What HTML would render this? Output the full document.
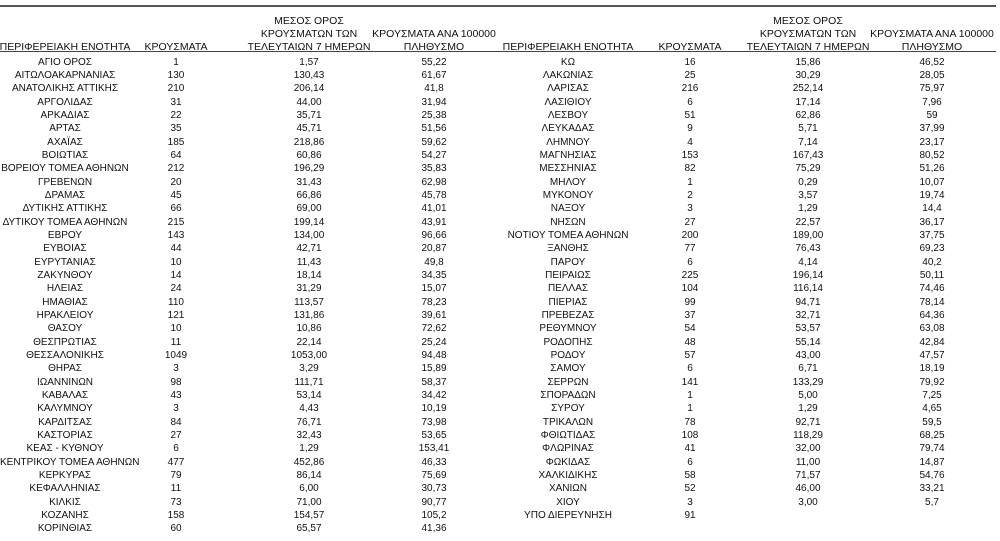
<!DOCTYPE html>
<html><head><meta charset="utf-8"><style>
body{margin:0;width:1000px;height:541px;background:#fff;position:relative;overflow:hidden;font-family:"Liberation Sans",sans-serif;font-size:10px;color:#111}
.t{position:absolute;left:0;top:5px;width:996px;height:2px;background:#555}
.hl{position:absolute;left:0;top:51px;width:996px;height:1px;background:#444}
.h{position:absolute;top:15px;height:39px;display:flex;align-items:flex-end;justify-content:center;text-align:center;line-height:13px;font-size:10.5px;white-space:nowrap}
.tb{position:absolute;top:55.8px}
.r{display:flex;height:13.34px;line-height:13.34px}
.r div{text-align:center;white-space:nowrap}
.L .c1{width:130px}.L .c2{width:92px}.L .c3{width:174px}.L .c4{width:76px}
.R .c1{width:136px}.R .c2{width:108px}.R .c3{width:128px}.R .c4{width:120px}
</style></head><body>
<div class="t"></div><div class="hl"></div>
<div class="h" style="left:0;width:130px">ΠΕΡΙΦΕΡΕΙΑΚΗ ΕΝΟΤΗΤΑ</div>
<div class="h" style="left:130px;width:92px">ΚΡΟΥΣΜΑΤΑ</div>
<div class="h" style="left:222px;width:174px">ΜΕΣΟΣ ΟΡΟΣ<br>ΚΡΟΥΣΜΑΤΩΝ ΤΩΝ<br>ΤΕΛΕΥΤΑΙΩΝ 7 ΗΜΕΡΩΝ</div>
<div class="h" style="left:374px;width:120px">ΚΡΟΥΣΜΑΤΑ ΑΝΑ 100000<br>ΠΛΗΘΥΣΜΟ</div>
<div class="h" style="left:500px;width:136px">ΠΕΡΙΦΕΡΕΙΑΚΗ ΕΝΟΤΗΤΑ</div>
<div class="h" style="left:636px;width:108px">ΚΡΟΥΣΜΑΤΑ</div>
<div class="h" style="left:744px;width:128px">ΜΕΣΟΣ ΟΡΟΣ<br>ΚΡΟΥΣΜΑΤΩΝ ΤΩΝ<br>ΤΕΛΕΥΤΑΙΩΝ 7 ΗΜΕΡΩΝ</div>
<div class="h" style="left:872px;width:120px">ΚΡΟΥΣΜΑΤΑ ΑΝΑ 100000<br>ΠΛΗΘΥΣΜΟ</div>
<div class="tb L" style="left:0">
<div class="r"><div class="c1">ΑΓΙΟ ΟΡΟΣ</div><div class="c2">1</div><div class="c3">1,57</div><div class="c4">55,22</div></div>
<div class="r"><div class="c1">ΑΙΤΩΛΟΑΚΑΡΝΑΝΙΑΣ</div><div class="c2">130</div><div class="c3">130,43</div><div class="c4">61,67</div></div>
<div class="r"><div class="c1">ΑΝΑΤΟΛΙΚΗΣ ΑΤΤΙΚΗΣ</div><div class="c2">210</div><div class="c3">206,14</div><div class="c4">41,8</div></div>
<div class="r"><div class="c1">ΑΡΓΟΛΙΔΑΣ</div><div class="c2">31</div><div class="c3">44,00</div><div class="c4">31,94</div></div>
<div class="r"><div class="c1">ΑΡΚΑΔΙΑΣ</div><div class="c2">22</div><div class="c3">35,71</div><div class="c4">25,38</div></div>
<div class="r"><div class="c1">ΑΡΤΑΣ</div><div class="c2">35</div><div class="c3">45,71</div><div class="c4">51,56</div></div>
<div class="r"><div class="c1">ΑΧΑΪΑΣ</div><div class="c2">185</div><div class="c3">218,86</div><div class="c4">59,62</div></div>
<div class="r"><div class="c1">ΒΟΙΩΤΙΑΣ</div><div class="c2">64</div><div class="c3">60,86</div><div class="c4">54,27</div></div>
<div class="r"><div class="c1">ΒΟΡΕΙΟΥ ΤΟΜΕΑ ΑΘΗΝΩΝ</div><div class="c2">212</div><div class="c3">196,29</div><div class="c4">35,83</div></div>
<div class="r"><div class="c1">ΓΡΕΒΕΝΩΝ</div><div class="c2">20</div><div class="c3">31,43</div><div class="c4">62,98</div></div>
<div class="r"><div class="c1">ΔΡΑΜΑΣ</div><div class="c2">45</div><div class="c3">66,86</div><div class="c4">45,78</div></div>
<div class="r"><div class="c1">ΔΥΤΙΚΗΣ ΑΤΤΙΚΗΣ</div><div class="c2">66</div><div class="c3">69,00</div><div class="c4">41,01</div></div>
<div class="r"><div class="c1">ΔΥΤΙΚΟΥ ΤΟΜΕΑ ΑΘΗΝΩΝ</div><div class="c2">215</div><div class="c3">199,14</div><div class="c4">43,91</div></div>
<div class="r"><div class="c1">ΕΒΡΟΥ</div><div class="c2">143</div><div class="c3">134,00</div><div class="c4">96,66</div></div>
<div class="r"><div class="c1">ΕΥΒΟΙΑΣ</div><div class="c2">44</div><div class="c3">42,71</div><div class="c4">20,87</div></div>
<div class="r"><div class="c1">ΕΥΡΥΤΑΝΙΑΣ</div><div class="c2">10</div><div class="c3">11,43</div><div class="c4">49,8</div></div>
<div class="r"><div class="c1">ΖΑΚΥΝΘΟΥ</div><div class="c2">14</div><div class="c3">18,14</div><div class="c4">34,35</div></div>
<div class="r"><div class="c1">ΗΛΕΙΑΣ</div><div class="c2">24</div><div class="c3">31,29</div><div class="c4">15,07</div></div>
<div class="r"><div class="c1">ΗΜΑΘΙΑΣ</div><div class="c2">110</div><div class="c3">113,57</div><div class="c4">78,23</div></div>
<div class="r"><div class="c1">ΗΡΑΚΛΕΙΟΥ</div><div class="c2">121</div><div class="c3">131,86</div><div class="c4">39,61</div></div>
<div class="r"><div class="c1">ΘΑΣΟΥ</div><div class="c2">10</div><div class="c3">10,86</div><div class="c4">72,62</div></div>
<div class="r"><div class="c1">ΘΕΣΠΡΩΤΙΑΣ</div><div class="c2">11</div><div class="c3">22,14</div><div class="c4">25,24</div></div>
<div class="r"><div class="c1">ΘΕΣΣΑΛΟΝΙΚΗΣ</div><div class="c2">1049</div><div class="c3">1053,00</div><div class="c4">94,48</div></div>
<div class="r"><div class="c1">ΘΗΡΑΣ</div><div class="c2">3</div><div class="c3">3,29</div><div class="c4">15,89</div></div>
<div class="r"><div class="c1">ΙΩΑΝΝΙΝΩΝ</div><div class="c2">98</div><div class="c3">111,71</div><div class="c4">58,37</div></div>
<div class="r"><div class="c1">ΚΑΒΑΛΑΣ</div><div class="c2">43</div><div class="c3">53,14</div><div class="c4">34,42</div></div>
<div class="r"><div class="c1">ΚΑΛΥΜΝΟΥ</div><div class="c2">3</div><div class="c3">4,43</div><div class="c4">10,19</div></div>
<div class="r"><div class="c1">ΚΑΡΔΙΤΣΑΣ</div><div class="c2">84</div><div class="c3">76,71</div><div class="c4">73,98</div></div>
<div class="r"><div class="c1">ΚΑΣΤΟΡΙΑΣ</div><div class="c2">27</div><div class="c3">32,43</div><div class="c4">53,65</div></div>
<div class="r"><div class="c1">ΚΕΑΣ - ΚΥΘΝΟΥ</div><div class="c2">6</div><div class="c3">1,29</div><div class="c4">153,41</div></div>
<div class="r"><div class="c1">ΚΕΝΤΡΙΚΟΥ ΤΟΜΕΑ ΑΘΗΝΩΝ</div><div class="c2">477</div><div class="c3">452,86</div><div class="c4">46,33</div></div>
<div class="r"><div class="c1">ΚΕΡΚΥΡΑΣ</div><div class="c2">79</div><div class="c3">86,14</div><div class="c4">75,69</div></div>
<div class="r"><div class="c1">ΚΕΦΑΛΛΗΝΙΑΣ</div><div class="c2">11</div><div class="c3">6,00</div><div class="c4">30,73</div></div>
<div class="r"><div class="c1">ΚΙΛΚΙΣ</div><div class="c2">73</div><div class="c3">71,00</div><div class="c4">90,77</div></div>
<div class="r"><div class="c1">ΚΟΖΑΝΗΣ</div><div class="c2">158</div><div class="c3">154,57</div><div class="c4">105,2</div></div>
<div class="r"><div class="c1">ΚΟΡΙΝΘΙΑΣ</div><div class="c2">60</div><div class="c3">65,57</div><div class="c4">41,36</div></div>
</div>
<div class="tb R" style="left:500px">
<div class="r"><div class="c1">ΚΩ</div><div class="c2">16</div><div class="c3">15,86</div><div class="c4">46,52</div></div>
<div class="r"><div class="c1">ΛΑΚΩΝΙΑΣ</div><div class="c2">25</div><div class="c3">30,29</div><div class="c4">28,05</div></div>
<div class="r"><div class="c1">ΛΑΡΙΣΑΣ</div><div class="c2">216</div><div class="c3">252,14</div><div class="c4">75,97</div></div>
<div class="r"><div class="c1">ΛΑΣΙΘΙΟΥ</div><div class="c2">6</div><div class="c3">17,14</div><div class="c4">7,96</div></div>
<div class="r"><div class="c1">ΛΕΣΒΟΥ</div><div class="c2">51</div><div class="c3">62,86</div><div class="c4">59</div></div>
<div class="r"><div class="c1">ΛΕΥΚΑΔΑΣ</div><div class="c2">9</div><div class="c3">5,71</div><div class="c4">37,99</div></div>
<div class="r"><div class="c1">ΛΗΜΝΟΥ</div><div class="c2">4</div><div class="c3">7,14</div><div class="c4">23,17</div></div>
<div class="r"><div class="c1">ΜΑΓΝΗΣΙΑΣ</div><div class="c2">153</div><div class="c3">167,43</div><div class="c4">80,52</div></div>
<div class="r"><div class="c1">ΜΕΣΣΗΝΙΑΣ</div><div class="c2">82</div><div class="c3">75,29</div><div class="c4">51,26</div></div>
<div class="r"><div class="c1">ΜΗΛΟΥ</div><div class="c2">1</div><div class="c3">0,29</div><div class="c4">10,07</div></div>
<div class="r"><div class="c1">ΜΥΚΟΝΟΥ</div><div class="c2">2</div><div class="c3">3,57</div><div class="c4">19,74</div></div>
<div class="r"><div class="c1">ΝΑΞΟΥ</div><div class="c2">3</div><div class="c3">1,29</div><div class="c4">14,4</div></div>
<div class="r"><div class="c1">ΝΗΣΩΝ</div><div class="c2">27</div><div class="c3">22,57</div><div class="c4">36,17</div></div>
<div class="r"><div class="c1">ΝΟΤΙΟΥ ΤΟΜΕΑ ΑΘΗΝΩΝ</div><div class="c2">200</div><div class="c3">189,00</div><div class="c4">37,75</div></div>
<div class="r"><div class="c1">ΞΑΝΘΗΣ</div><div class="c2">77</div><div class="c3">76,43</div><div class="c4">69,23</div></div>
<div class="r"><div class="c1">ΠΑΡΟΥ</div><div class="c2">6</div><div class="c3">4,14</div><div class="c4">40,2</div></div>
<div class="r"><div class="c1">ΠΕΙΡΑΙΩΣ</div><div class="c2">225</div><div class="c3">196,14</div><div class="c4">50,11</div></div>
<div class="r"><div class="c1">ΠΕΛΛΑΣ</div><div class="c2">104</div><div class="c3">116,14</div><div class="c4">74,46</div></div>
<div class="r"><div class="c1">ΠΙΕΡΙΑΣ</div><div class="c2">99</div><div class="c3">94,71</div><div class="c4">78,14</div></div>
<div class="r"><div class="c1">ΠΡΕΒΕΖΑΣ</div><div class="c2">37</div><div class="c3">32,71</div><div class="c4">64,36</div></div>
<div class="r"><div class="c1">ΡΕΘΥΜΝΟΥ</div><div class="c2">54</div><div class="c3">53,57</div><div class="c4">63,08</div></div>
<div class="r"><div class="c1">ΡΟΔΟΠΗΣ</div><div class="c2">48</div><div class="c3">55,14</div><div class="c4">42,84</div></div>
<div class="r"><div class="c1">ΡΟΔΟΥ</div><div class="c2">57</div><div class="c3">43,00</div><div class="c4">47,57</div></div>
<div class="r"><div class="c1">ΣΑΜΟΥ</div><div class="c2">6</div><div class="c3">6,71</div><div class="c4">18,19</div></div>
<div class="r"><div class="c1">ΣΕΡΡΩΝ</div><div class="c2">141</div><div class="c3">133,29</div><div class="c4">79,92</div></div>
<div class="r"><div class="c1">ΣΠΟΡΑΔΩΝ</div><div class="c2">1</div><div class="c3">5,00</div><div class="c4">7,25</div></div>
<div class="r"><div class="c1">ΣΥΡΟΥ</div><div class="c2">1</div><div class="c3">1,29</div><div class="c4">4,65</div></div>
<div class="r"><div class="c1">ΤΡΙΚΑΛΩΝ</div><div class="c2">78</div><div class="c3">92,71</div><div class="c4">59,5</div></div>
<div class="r"><div class="c1">ΦΘΙΩΤΙΔΑΣ</div><div class="c2">108</div><div class="c3">118,29</div><div class="c4">68,25</div></div>
<div class="r"><div class="c1">ΦΛΩΡΙΝΑΣ</div><div class="c2">41</div><div class="c3">32,00</div><div class="c4">79,74</div></div>
<div class="r"><div class="c1">ΦΩΚΙΔΑΣ</div><div class="c2">6</div><div class="c3">11,00</div><div class="c4">14,87</div></div>
<div class="r"><div class="c1">ΧΑΛΚΙΔΙΚΗΣ</div><div class="c2">58</div><div class="c3">71,57</div><div class="c4">54,76</div></div>
<div class="r"><div class="c1">ΧΑΝΙΩΝ</div><div class="c2">52</div><div class="c3">46,00</div><div class="c4">33,21</div></div>
<div class="r"><div class="c1">ΧΙΟΥ</div><div class="c2">3</div><div class="c3">3,00</div><div class="c4">5,7</div></div>
<div class="r"><div class="c1">ΥΠΟ ΔΙΕΡΕΥΝΗΣΗ</div><div class="c2">91</div><div class="c3"></div><div class="c4"></div></div>
</div>
</body></html>
